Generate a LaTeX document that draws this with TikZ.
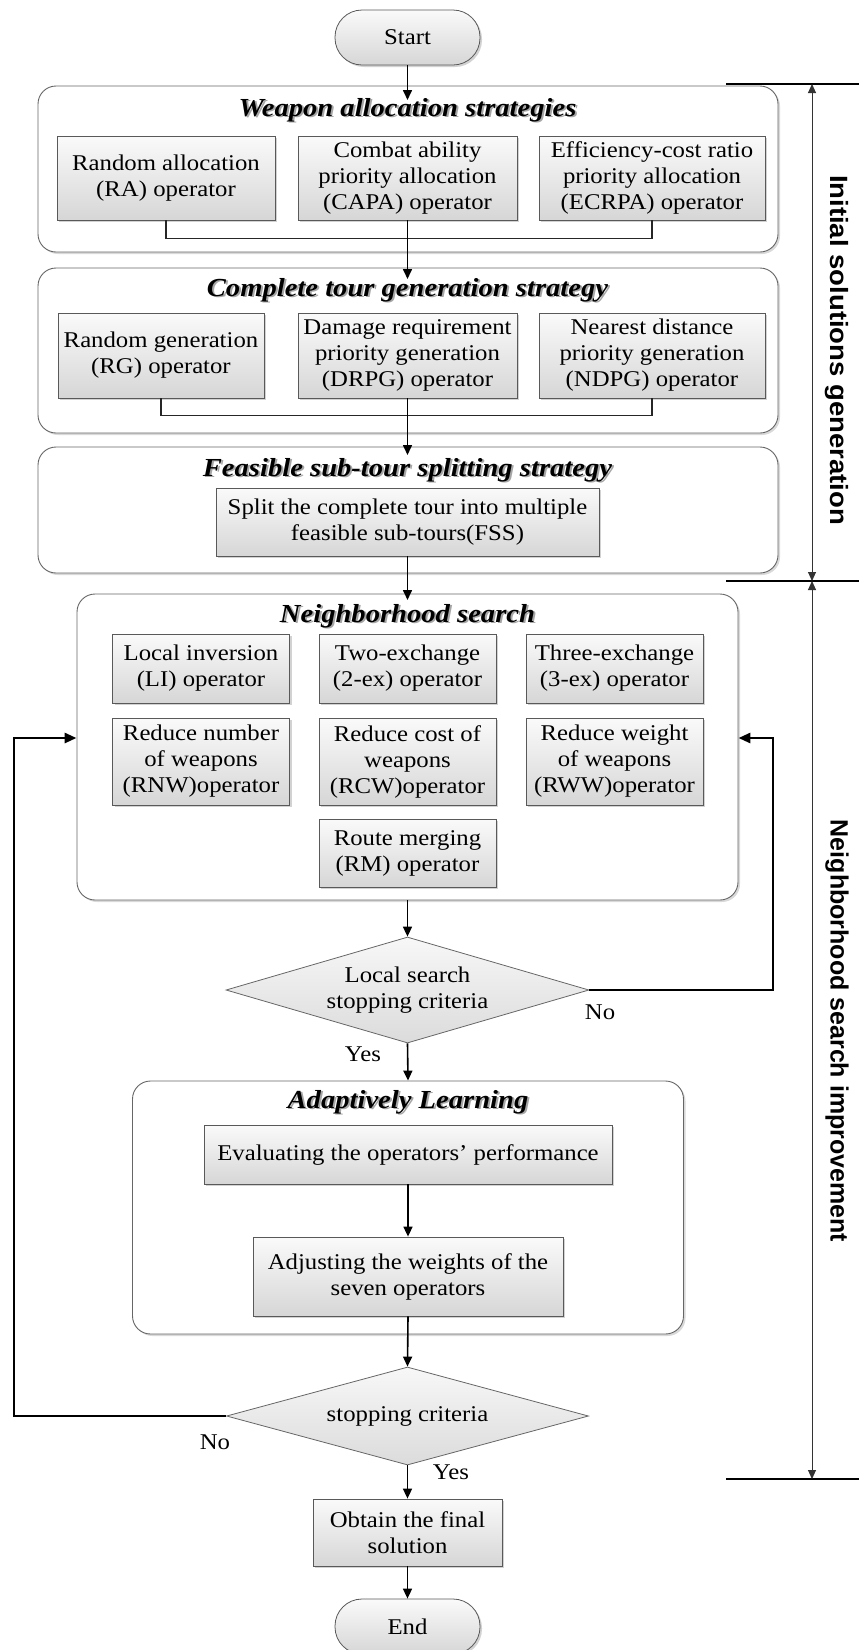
\documentclass[tikz,border=0pt]{standalone}
\usepackage{fontspec}
\setmainfont{Liberation Serif}[FakeStretch=1.1]
\newfontfamily\sidefont{Liberation Sans}
\usetikzlibrary{arrows.meta,shapes.geometric,shadows,calc}

\tikzset{
  txt/.style={font=\fontsize{22.5}{26}\selectfont, align=center},
  opbox/.style={txt, draw=black!65, line width=0.8pt, top color=black!2, bottom color=black!16,
    inner sep=1pt,
    drop shadow={shadow xshift=2pt, shadow yshift=-2pt, fill=black!35, opacity=0.5}},
  group/.style={draw=black!60, line width=0.9pt, rounded corners=18pt, fill=white,
    drop shadow={shadow xshift=2pt, shadow yshift=-2pt, fill=black!25, opacity=0.6}},
  term/.style={opbox, rounded corners=27pt},
  decision/.style={txt, diamond, draw=black!60, line width=0.8pt, top color=black!3, bottom color=black!14,
    inner sep=0pt, aspect=3.4},
  ttl/.style={font=\fontsize{26}{30}\selectfont\bfseries\itshape},
  ttlshadow/.style={ttl, text=black!35},
  flow/.style={draw=black, line width=1.6pt, -{Triangle[length=10pt,width=9pt]}},
  link/.style={draw=black!85, line width=1.2pt},
  back/.style={draw=black, line width=2.8pt, -{Triangle[length=12pt,width=10pt]}},
  bracket/.style={draw=black, line width=1.8pt},
  span/.style={draw=black!80, line width=1pt, {Triangle[length=9pt,width=8pt]}-{Triangle[length=9pt,width=8pt]}},
  side/.style={rotate=-90, font=\sidefont\fontsize{25}{27}\selectfont\bfseries},
  lbl/.style={txt}
}

\begin{document}
\begin{tikzpicture}[x=1pt,y=-1pt]
\useasboundingbox (0,0) rectangle (859,1650);

% ---------- group frames ----------
\node[group, minimum width=740, minimum height=166] (g1) at (408,169) {};
\node[group, minimum width=740, minimum height=165] (g2) at (408,350.5) {};
\node[group, minimum width=740, minimum height=126] (g3) at (408,510) {};
\node[group, minimum width=661, minimum height=306] (g4) at (407.5,747) {};
\node[group, minimum width=551, minimum height=253] (g5) at (408,1207.5) {};

% ---------- group titles ----------
\node[ttlshadow] (t1s) at (409.5,111.5) {Weapon allocation strategies};
\node[ttl] (t1) at (407.5,110) {Weapon allocation strategies};
\node[ttlshadow] (t2s) at (409.5,291.5) {Complete tour generation strategy};
\node[ttl] (t2) at (407.5,290) {Complete tour generation strategy};
\node[ttlshadow] (t3s) at (409.5,471.5) {Feasible sub-tour splitting strategy};
\node[ttl] (t3) at (407.5,470) {Feasible sub-tour splitting strategy};
\node[ttlshadow] (t4s) at (409.5,617.5) {Neighborhood search};
\node[ttl] (t4) at (407.5,616) {Neighborhood search};
\node[ttlshadow] (t5s) at (410,1103.5) {Adaptively Learning};
\node[ttl] (t5) at (408,1102) {Adaptively Learning};

% ---------- start ----------
\node[term, minimum width=145, minimum height=55] (start) at (407.5,37.5) {Start};

% ---------- weapon allocation ----------
\node[opbox, minimum width=218, minimum height=84] (ra) at (166,178) {Random allocation\\(RA) operator};
\node[opbox, minimum width=219, minimum height=84] (capa) at (407.5,178) {Combat ability\\priority allocation\\(CAPA) operator};
\node[opbox, minimum width=226, minimum height=84] (ecrpa) at (652,178) {Efficiency-cost ratio\\priority allocation\\(ECRPA) operator};

% ---------- tour generation ----------
\node[opbox, minimum width=206, minimum height=85] (rg) at (161,355.5) {Random generation\\(RG) operator};
\node[opbox, minimum width=219, minimum height=85] (drpg) at (407.5,355.5) {Damage requirement\\priority generation\\(DRPG) operator};
\node[opbox, minimum width=226, minimum height=85] (ndpg) at (652,355.5) {Nearest distance\\priority generation\\(NDPG) operator};

% ---------- splitting ----------
\node[opbox, minimum width=383, minimum height=68] (fss) at (407.5,522) {Split the complete tour into multiple\\feasible sub-tours(FSS)};

% ---------- neighborhood operators ----------
\node[opbox, minimum width=177, minimum height=69] (li) at (201,668.5) {Local inversion\\(LI) operator};
\node[opbox, minimum width=177, minimum height=69] (ex2) at (407.5,668.5) {Two-exchange\\(2-ex) operator};
\node[opbox, minimum width=177, minimum height=69] (ex3) at (614.5,668.5) {Three-exchange\\(3-ex) operator};
\node[opbox, minimum width=177, minimum height=87] (rnw) at (201,761.5) {Reduce number\\of weapons\\(RNW)operator};
\node[opbox, minimum width=177, minimum height=87] (rcw) at (407.5,761.5) {Reduce cost of\\weapons\\(RCW)operator};
\node[opbox, minimum width=177, minimum height=87] (rww) at (614.5,761.5) {Reduce weight\\of weapons\\(RWW)operator};
\node[opbox, minimum width=177, minimum height=68] (rm) at (407.5,853) {Route merging\\(RM) operator};

% ---------- local search test ----------
\node[decision, minimum width=363, minimum height=106] (d1) at (407.5,990) {Local search\\stopping criteria};

% ---------- adaptive learning ----------
\node[opbox, minimum width=408, minimum height=59] (eval) at (408,1154.5) {Evaluating the operators’ performance};
\node[opbox, minimum width=310, minimum height=79] (adj) at (408,1276.5) {Adjusting the weights of the\\seven operators};

% ---------- global stopping test ----------
\node[decision, minimum width=362, minimum height=98] (d2) at (407.5,1416) {stopping criteria};

\node[opbox, minimum width=189, minimum height=67] (final) at (407.5,1532.5) {Obtain the final\\solution};
\node[term, minimum width=145, minimum height=55] (end) at (407.5,1626.5) {End};

% ---------- branch labels ----------
\node[lbl] (no1) at (600,1012) {No};
\node[lbl] (yes1) at (363,1054) {Yes};
\node[lbl] (no2) at (215,1442) {No};
\node[lbl] (yes2) at (451,1472) {Yes};

% ---------- connectors ----------
\coordinate (in1) at (407.5,100);
\coordinate (in2) at (407.5,279);
\coordinate (in3) at (407.5,455);
\coordinate (in4) at (407.5,600);
\coordinate (rx) at (773,738);
\coordinate (lx) at (14,738);

\draw[flow] (start.south) -- (in1);
\draw[link] (ra.south) -- ++(0,18) -| (ecrpa.south);
\draw[flow] (capa.south) -- (in2);
\draw[link] (rg.south) -- ++(0,17) -| (ndpg.south);
\draw[flow] (drpg.south) -- (in3);
\draw[flow] (fss.south) -- (in4);
\draw[flow] (g4.south) -- (d1.north);
\draw[flow] (d1.south) -- (g5.north);
\draw[flow] (eval.south) -- (adj.north);
\draw[flow] (adj.south) -- (d2.north);
\draw[flow] (d2.south) -- (final.north);
\draw[flow] (final.south) -- (end.north);
\draw[back] (d1.east) -| (rx) -- (rx -| g4.east);
\draw[back] (d2.west) -| (lx) -- (lx -| g4.west);

% ---------- phase brackets ----------
\coordinate (b1l) at (726,84);   \coordinate (b1r) at (859,84);
\coordinate (b2l) at (726,581);  \coordinate (b2r) at (859,581);
\coordinate (b3l) at (726,1479); \coordinate (b3r) at (859,1479);
\coordinate (a1) at (812,84);
\coordinate (a2) at (812,581);
\coordinate (a3) at (812,1479);
\draw[bracket] (b1l) -- (b1r);
\draw[bracket] (b2l) -- (b2r);
\draw[bracket] (b3l) -- (b3r);
\draw[span] (a1) -- (a2);
\draw[span] (a2) -- (a3);

\node[side] (ph1) at (837,350) {\scalebox{1.1}[1]{Initial solutions generation}};
\node[side] (ph2) at (837,1031) {Neighborhood search improvement};
\end{tikzpicture}
\end{document}
